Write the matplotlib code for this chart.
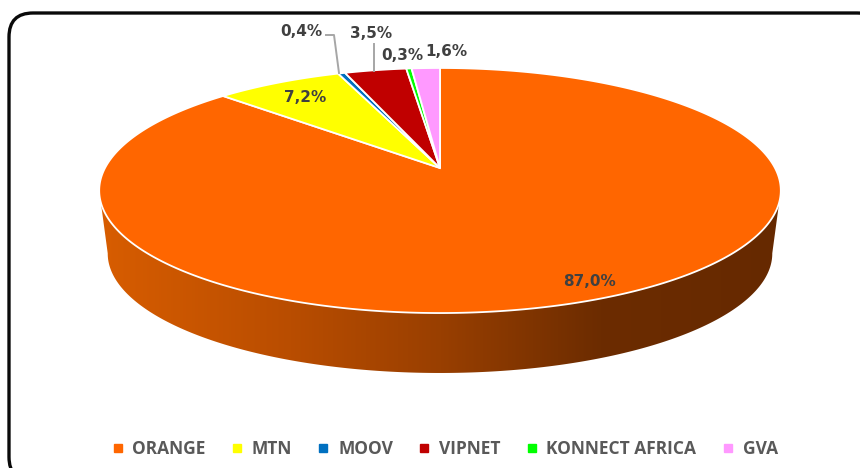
import numpy as np
import matplotlib
matplotlib.use("Agg")
import matplotlib.pyplot as plt
from matplotlib.lines import Line2D
from matplotlib.patches import FancyBboxPatch, Polygon

operateurs = ["ORANGE", "MTN", "MOOV", "VIPNET", "KONNECT AFRICA", "GVA"]
parts = [87.0, 7.2, 0.4, 3.5, 0.3, 1.6]
etiquettes = ["87,0%", "7,2%", "0,4%", "3,5%", "0,3%", "1,6%"]
couleurs = ["#FF6600", "#FFFF00", "#0070C0", "#C00000", "#00FF00", "#FF99FF"]

# position des etiquettes en pixels
pos_etiquettes = [(589, 281), (305, 98), (301, 31), (371, 34), (402, 56), (446, 51)]

# perspective : cercle unite -> ellipse du dessus
CX, CY = 440, 168
A, B, C = 0.1837, 118.4, 335
ECH_BAS, DECAL_BAS = 0.975, 63


def projette(theta, rayon=1.0):
    """theta en degres, sens horaire depuis 12h."""
    t = np.radians(theta)
    u, v = rayon * np.sin(t), rayon * np.cos(t)
    d = 1 + A * v
    return CX + C * u / d, CY - B * v / d


fig = plt.figure(figsize=(8.6, 4.68), dpi=100)
ax = fig.add_axes([0, 0, 1, 1])
ax.set_xlim(0, 860)
ax.set_ylim(468, 0)
ax.axis("off")

# --- cadre arrondi
cadre = FancyBboxPatch((9, 13), 872, 468, boxstyle="round,pad=0,rounding_size=24",
                       fc="white", ec="#0a0a0a", lw=2.4, zorder=0)
ax.add_patch(cadre)

# --- paroi avec degrade
th = np.linspace(0, 360, 721)
xh, yh = projette(th)
xb = CX + (xh - CX) * ECH_BAS
cy_haut = (yh.min() + yh.max()) / 2
yb = cy_haut + (yh - cy_haut) * ECH_BAS + DECAL_BAS
gauche, droite = np.argmin(xh), np.argmax(xh)
avant_h = np.arange(droite, gauche + 1)
contour = np.r_[np.c_[xh[avant_h], yh[avant_h]], np.c_[xb[avant_h], yb[avant_h]][::-1]]
paroi = Polygon(contour, closed=True, fc="none", ec="none")
ax.add_patch(paroi)
xs = np.array([99, 290, 440, 600, 781])
rgb = np.array([[0xD8, 0x5D, 0x00], [0xB9, 0x4D, 0x00], [0x99, 0x3F, 0x00],
                [0x6C, 0x2C, 0x00], [0x66, 0x29, 0x00]]) / 255
xg = np.arange(99, 782)
degrade = np.stack([np.interp(xg, xs, rgb[:, i]) for i in range(3)], axis=-1)[None, :, :]
img = ax.imshow(degrade, extent=(99, 782, 380, 180), aspect="auto", zorder=1)
img.set_clip_path(paroi)
ax.set_xlim(0, 860)
ax.set_ylim(468, 0)

# --- parts du dessus
bords = np.cumsum([0] + parts) / sum(parts) * 360
for i, coul in enumerate(couleurs):
    t = np.linspace(bords[i], bords[i + 1], max(3, int(parts[i] * 8)))
    x, y = projette(t)
    ax.fill(np.r_[CX, x], np.r_[CY, y], fc=coul, ec="white", lw=1.3,
            joinstyle="miter", zorder=3)

# --- traits de rappel
ax.plot([339, 334, 326], [73, 35, 35], color="#A6A6A6", lw=1.4, zorder=4)
ax.plot([374, 374], [71, 44], color="#A6A6A6", lw=1.4, zorder=4)

# --- etiquettes
for txt, (px, py) in zip(etiquettes, pos_etiquettes):
    ax.text(px, py, txt, ha="center", va="center", fontsize=11, fontweight="bold",
            family="DejaVu Sans", color="#404040", zorder=5)

# --- legende
poignees = [Line2D([], [], ls="none", marker="s", ms=5.5, color=c) for c in couleurs]
ax.legend(poignees, operateurs, loc="center", bbox_to_anchor=(445 / 860, 1 - 449 / 468),
          ncol=6, frameon=False, handlelength=0.6, handletextpad=0.55, columnspacing=1.5,
          prop={"family": "Open Sans", "weight": "bold", "size": 12.5}, labelcolor="#595959")

fig.savefig("out.png", dpi=100, facecolor="white")
